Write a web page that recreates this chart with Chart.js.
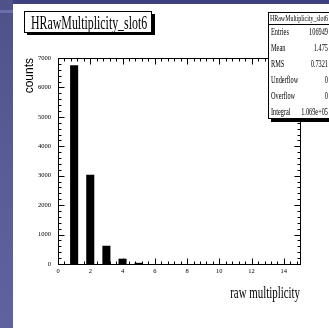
<!DOCTYPE html>
<html>
<head>
<meta charset="utf-8">
<script src="https://cdn.jsdelivr.net/npm/chart.js@4/dist/chart.umd.min.js"></script>
<style>
  html, body { margin: 0; padding: 0; background: #fff; overflow: hidden; }
  canvas { display: block; }
</style>
</head>
<body>
<canvas id="c" width="329" height="328"></canvas>
<script>
// Histogram contents
const histName = 'HRawMultiplicity_slot6';
const binCenters = [1, 2, 3, 4, 5];
const binCounts = [6750, 3030, 620, 180, 40];

// Axis ranges and titles
const xRange = [0, 15];
const yRange = [0, 7000];
const xMajorStep = 2;
const yMajorStep = 1000;
const xTitle = 'raw multiplicity';
const yTitle = 'counts';

// Statistics box
const statLabels = ['Entries', 'Mean', 'RMS', 'Underflow', 'Overflow', 'Integral'];
const statValues = ['106949', '1.475', '0.7321', '0', '0', '1.069e+05'];

const SERIF = '"Liberation Serif", "Times New Roman", serif';

function squeezedText(ctx, text, x, y, size, sx, align) {
  ctx.save();
  ctx.font = size + 'px ' + SERIF;
  ctx.textAlign = align;
  ctx.textBaseline = 'alphabetic';
  ctx.fillStyle = '#000';
  ctx.translate(x, y);
  ctx.scale(sx, 1);
  ctx.fillText(text, 0, 0);
  ctx.restore();
}

const framePlugin = {
  id: 'rootFrame',
  beforeDraw(chart) {
    const ctx = chart.ctx;
    ctx.save();
    ctx.fillStyle = '#fff';
    ctx.fillRect(0, 0, chart.width, chart.height);
    // slide border on the left and top
    const g = ctx.createLinearGradient(0, 0, 0, chart.height);
    g.addColorStop(0, '#4f5189');
    g.addColorStop(0.5, '#5a5c97');
    g.addColorStop(1, '#6062a0');
    ctx.fillStyle = g;
    ctx.fillRect(0, 0, 13, chart.height);
    ctx.fillStyle = '#6b6ea9';
    ctx.fillRect(0, 10, 13, 3);
    ctx.fillStyle = '#3f4280';
    ctx.fillRect(13, 0, chart.width - 13, 4);
    ctx.restore();
  },
  afterDatasetsDraw(chart) {
    const {ctx, chartArea: a, scales: {x, y}} = chart;
    const L = Math.round(a.left) + 0.5, R = Math.round(a.right) + 0.5;
    const T = Math.round(a.top) + 0.5, B = Math.round(a.bottom) + 0.5;
    ctx.save();
    ctx.strokeStyle = '#000';
    ctx.lineWidth = 1;
    ctx.strokeRect(L, T, R - L, B - T);
    ctx.beginPath();
    const xMinor = xMajorStep / 5;
    for (let i = 0; xRange[0] + i * xMinor <= xRange[1] + 1e-9; i++) {
      const px = Math.round(x.getPixelForValue(xRange[0] + i * xMinor)) + 0.5;
      const len = (i % 5 === 0) ? 6 : 3;
      ctx.moveTo(px, B); ctx.lineTo(px, B - len);
      ctx.moveTo(px, T); ctx.lineTo(px, T + len);
    }
    const yMinor = yMajorStep / 5;
    for (let i = 0; yRange[0] + i * yMinor <= yRange[1] + 1e-9; i++) {
      const py = Math.round(y.getPixelForValue(yRange[0] + i * yMinor)) + 0.5;
      const len = (i % 5 === 0) ? 6 : 3;
      ctx.moveTo(L, py); ctx.lineTo(L + len, py);
      ctx.moveTo(R, py); ctx.lineTo(R - len, py);
    }
    ctx.stroke();
    ctx.restore();
    // x axis title, right-aligned with the frame
    squeezedText(ctx, xTitle, a.right, 298, 16, 0.68, 'right');
  },
  afterDraw(chart) {
    const ctx = chart.ctx;
    ctx.save();
    // title box with drop shadow
    ctx.fillStyle = '#000';
    ctx.fillRect(27, 14, 128, 21);
    ctx.fillStyle = '#fff';
    ctx.fillRect(24.5, 11.5, 127, 21);
    ctx.strokeStyle = '#000';
    ctx.lineWidth = 1;
    ctx.strokeRect(24.5, 11.5, 127, 21);
    squeezedText(ctx, histName, 31, 29, 18, 0.66, 'left');

    // statistics box with drop shadow
    ctx.fillStyle = '#000';
    ctx.fillRect(271, 15, 70, 107);
    ctx.fillStyle = '#fff';
    ctx.fillRect(268.5, 12.5, 70, 106);
    ctx.strokeRect(268.5, 12.5, 70, 106);
    ctx.beginPath();
    ctx.moveTo(268.5, 24.5); ctx.lineTo(338, 24.5);
    ctx.stroke();
    squeezedText(ctx, histName, 299, 21, 9, 0.66, 'center');
    statLabels.forEach((lab, i) => {
      const base = 35 + i * 16;
      squeezedText(ctx, lab, 271, base, 10.5, 0.6, 'left');
      squeezedText(ctx, statValues[i], 328, base, 10.5, 0.6, 'right');
    });
    ctx.restore();
  }
};

new Chart(document.getElementById('c'), {
  type: 'bar',
  data: {
    datasets: [{
      data: binCenters.map((c, i) => ({x: c, y: binCounts[i]})),
      backgroundColor: '#000',
      borderWidth: 0,
      barPercentage: 0.5,
      categoryPercentage: 1
    }]
  },
  options: {
    responsive: false,
    animation: false,
    devicePixelRatio: 1,
    layout: {padding: {left: 0, top: 58, right: 29, bottom: 0}},
    plugins: {legend: {display: false}, tooltip: {enabled: false}, title: {display: false}},
    scales: {
      x: {
        type: 'linear', min: xRange[0], max: xRange[1], offset: false,
        grid: {display: false, drawTicks: false},
        border: {display: false},
        ticks: {
          stepSize: xMajorStep, includeBounds: false, padding: 3,
          maxRotation: 0, autoSkip: false, color: '#000',
          font: {family: SERIF, size: 6.5},
          callback: v => String(v)
        },
        afterFit(s) { s.height = 64; }
      },
      y: {
        min: yRange[0], max: yRange[1],
        grid: {display: false, drawTicks: false},
        border: {display: false},
        ticks: {
          stepSize: yMajorStep, padding: 7, color: '#000',
          font: {family: SERIF, size: 6.5},
          callback: v => String(v)
        },
        title: {
          display: true, text: yTitle, align: 'end', color: '#000',
          font: {family: '"Liberation Sans", Arial, sans-serif', size: 12},
          padding: {top: 22, bottom: 0}
        },
        afterFit(s) { s.width = 58; }
      }
    }
  },
  plugins: [framePlugin]
});
</script>
</body>
</html>
